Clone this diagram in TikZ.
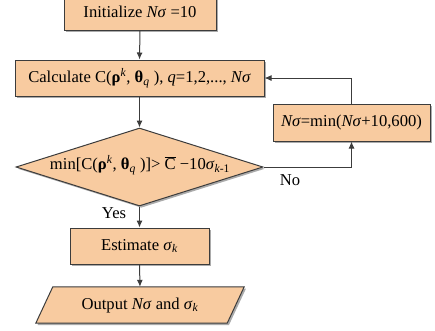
\documentclass[tikz,border=0pt]{standalone}
\usepackage{fontspec}
\setmainfont{Liberation Serif}
\usetikzlibrary{shapes.geometric,shadows,arrows.meta}
\definecolor{boxfill}{RGB}{248,203,160}
\definecolor{boxline}{RGB}{60,60,60}
\tikzset{
  base/.style={draw=boxline, line width=1pt, fill=boxfill, inner sep=0pt,
    drop shadow={shadow xshift=1.8pt, shadow yshift=-1.8pt, fill=black!60, opacity=0.55}},
  procbox/.style={base, rectangle, minimum height=36pt},
  decbox/.style={base, diamond, minimum width=247pt, minimum height=78pt},
  lbl/.style={font=\fontsize{16.6pt}{19pt}\selectfont},
  conn/.style={draw=boxline, line width=1pt, -{Latex[length=7pt,width=6pt]}}
}
\begin{document}
\begin{tikzpicture}[x=1pt,y=-1pt]
\useasboundingbox (0,0) rectangle (435,330);
\node[procbox, minimum width=152pt, lbl] (init) at (140,12) {Initialize \textit{Nσ} =10};
\node[procbox, minimum width=249pt, lbl] (calc) at (139.5,78)
  {Calculate C(\textbf{ρ}\textsuperscript{\textit{k}}, \textbf{θ}\textsubscript{\textit{q}} ), \textit{q}=1,2,..., \textit{Nσ}};
\node[procbox, minimum width=157pt, minimum height=37pt, lbl] (upd) at (351.5,122.5)
  {\textit{Nσ}=min(\textit{Nσ}+10,600)};
\node[decbox] (dia) at (139.5,167) {};
\node[lbl] (diatext) at (140,165)
  {min[C(\textbf{ρ}\textsuperscript{\textit{k}}, \textbf{θ}\textsubscript{\textit{q}} )]> $\overline{\mbox{C}}$ −10\textit{σ}\textsubscript{\textit{k}-1}};
\node[procbox, minimum width=139pt, lbl] (est) at (139.5,246) {Estimate \textit{σ}\textsubscript{\textit{k}}};
\node[minimum width=191pt, minimum height=36pt, inner sep=0pt] (out) at (140,305) {};
\path[base] ([xshift=-8.5pt]out.south west) -- ([xshift=8.5pt]out.north west)
  -- ([xshift=8.5pt]out.north east) -- ([xshift=-8.5pt]out.south east) -- cycle;
\node[lbl] (outtext) at (out) {Output \textit{Nσ} and \textit{σ}\textsubscript{\textit{k}}};
\node[lbl] (no) at (290,180) {No};
\node[lbl] (yes) at (114,213) {Yes};
\draw[conn] (init.south) -- (calc.north);
\draw[conn] (calc.south) -- (dia.north);
\draw[conn] (dia.south) -- (est.north);
\draw[conn] (est.south) -- (out.north);
\draw[conn] (dia.east) -| (upd.south);
\draw[conn] (upd.north) |- (calc.east);
\end{tikzpicture}
\end{document}
